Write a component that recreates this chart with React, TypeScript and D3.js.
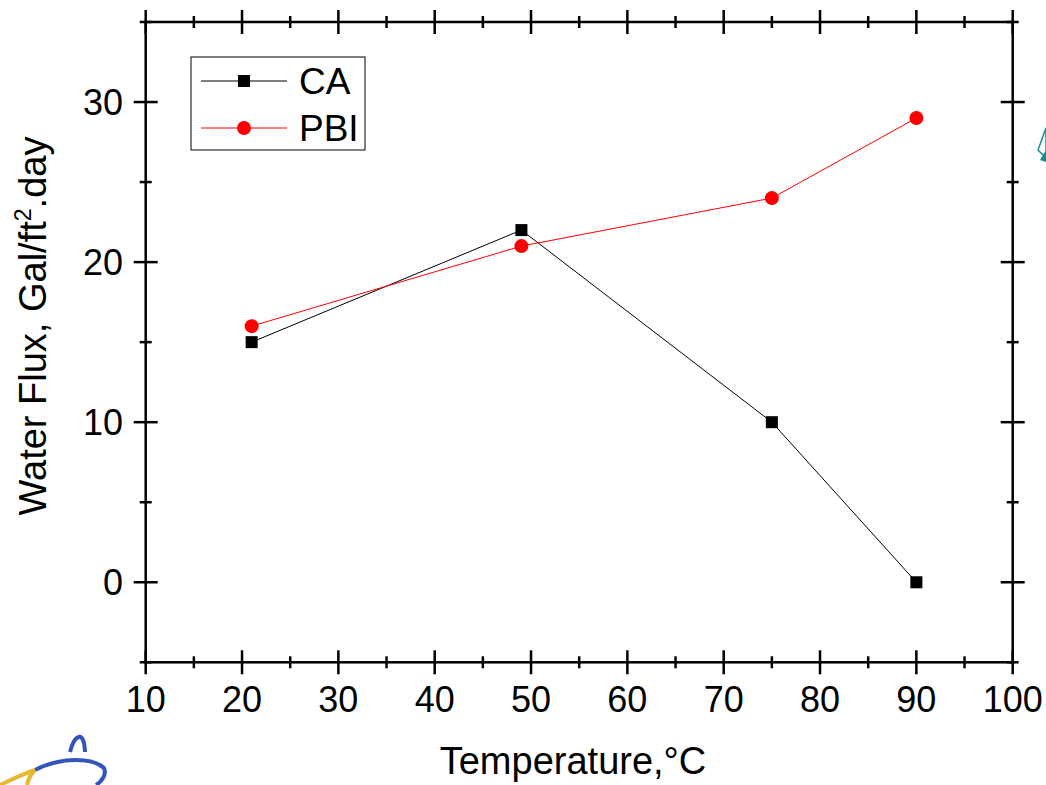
import React from "react";
import * as d3 from "d3";

const temperatures = [21, 49, 75, 90];
const caFlux = [15, 22, 10, 0];
const pbiFlux = [16, 21, 24, 29];
const xTicks = [10, 20, 30, 40, 50, 60, 70, 80, 90, 100];
const yTicks = [0, 10, 20, 30];
const xMinor = [15, 25, 35, 45, 55, 65, 75, 85, 95];
const yMinor = [-5, 5, 15, 25, 35];

const W = 1046;
const H = 785;
const L = 145.7, R = 1012.7, T = 22, B = 662.3;
const FONT = "'Liberation Sans', Arial, sans-serif";

export default function App() {
  const x = d3.scaleLinear().domain([10, 100]).range([L, R]);
  const y = d3.scaleLinear().domain([-5, 35]).range([B, T]);
  const line = d3.line<[number, number]>().x(d => x(d[0])).y(d => y(d[1]));
  const caPts: [number, number][] = temperatures.map((t, i) => [t, caFlux[i]]);
  const pbiPts: [number, number][] = temperatures.map((t, i) => [t, pbiFlux[i]]);
  const major = 12, minor = 6;

  return (
    <svg width={W} height={H} style={{ position: "absolute", left: 0, top: 0, background: "#fff" }} fontFamily={FONT}>
      {/* decorations */}
      <path d="M1046,128 L1038,150 L1046,158 Z" fill="none" stroke="#1a8a8a" strokeWidth={1.5} />
      <path d="M1046,150 L1040,160 L1046,162 Z" fill="#1a8a8a" />
      <path d="M70,752 C74,736 84,728 85,752" stroke="#3355bb" strokeWidth={4} fill="none" />
      <path d="M35,770 C60,757 92,757 104,768 C107,775 101,782 96,785" stroke="#3355bb" strokeWidth={4} fill="none" />
      <path d="M0,785 C15,778 25,773 35,770" stroke="#e8b830" strokeWidth={4} fill="none" />
      <path d="M35,770 C30,775 28,780 27,785" stroke="#e8b830" strokeWidth={4} fill="none" />

      {/* frame */}
      <rect x={L} y={T} width={R - L} height={B - T} fill="none" stroke="#000" strokeWidth={2.5} />
      {xTicks.map(t => (
        <g key={"xt" + t}>
          <line x1={x(t)} x2={x(t)} y1={B - major} y2={B + major} stroke="#000" strokeWidth={2.5} />
          <line x1={x(t)} x2={x(t)} y1={T - major} y2={T + major} stroke="#000" strokeWidth={2.5} />
          <text x={x(t)} y={711.5} fontSize={36} textAnchor="middle" fill="#000">{t}</text>
        </g>
      ))}
      {xMinor.map(t => (
        <g key={"xm" + t}>
          <line x1={x(t)} x2={x(t)} y1={B - minor} y2={B + minor} stroke="#000" strokeWidth={2.5} />
          <line x1={x(t)} x2={x(t)} y1={T - minor} y2={T + minor} stroke="#000" strokeWidth={2.5} />
        </g>
      ))}
      {yTicks.map(t => (
        <g key={"yt" + t}>
          <line x1={L - major} x2={L + major} y1={y(t)} y2={y(t)} stroke="#000" strokeWidth={2.5} />
          <line x1={R - major} x2={R + major} y1={y(t)} y2={y(t)} stroke="#000" strokeWidth={2.5} />
          <text x={123} y={y(t)} dy="0.36em" fontSize={36} textAnchor="end" fill="#000">{t}</text>
        </g>
      ))}
      {yMinor.map(t => (
        <g key={"ym" + t}>
          <line x1={L - minor} x2={L + minor} y1={y(t)} y2={y(t)} stroke="#000" strokeWidth={2.5} />
          <line x1={R - minor} x2={R + minor} y1={y(t)} y2={y(t)} stroke="#000" strokeWidth={2.5} />
        </g>
      ))}

      {/* series */}
      <path d={line(caPts) || ""} fill="none" stroke="#000" strokeWidth={1} />
      <path d={line(pbiPts) || ""} fill="none" stroke="#ff0000" strokeWidth={1} />
      {caPts.map((p, i) => (
        <rect key={"ca" + i} x={x(p[0]) - 6} y={y(p[1]) - 6} width={12} height={12} fill="#000" />
      ))}
      {pbiPts.map((p, i) => (
        <circle key={"pbi" + i} cx={x(p[0])} cy={y(p[1])} r={7} fill="#ff0000" />
      ))}

      {/* legend */}
      <rect x={191} y={57} width={174} height={93} fill="#fff" stroke="#000" strokeWidth={1} />
      <line x1={201} x2={287} y1={81} y2={81} stroke="#000" strokeWidth={1} />
      <rect x={238} y={75} width={12} height={12} fill="#000" />
      <text x={299} y={81} dy="0.36em" fontSize={37} fill="#000">CA</text>
      <line x1={201} x2={287} y1={128} y2={128} stroke="#ff0000" strokeWidth={1} />
      <circle cx={244} cy={128} r={7} fill="#ff0000" />
      <text x={299} y={128} dy="0.36em" fontSize={37} fill="#000">PBI</text>

      {/* axis titles */}
      <text x={573} y={774} fontSize={38} textAnchor="middle" fill="#000">Temperature,°C</text>
      <text transform="translate(46,326) rotate(-90)" fontSize={38} textAnchor="middle" fill="#000">
        Water Flux,  Gal/ft<tspan dy={-15} fontSize={23}>2</tspan><tspan dy={15}>.day</tspan>
      </text>
    </svg>
  );
}
